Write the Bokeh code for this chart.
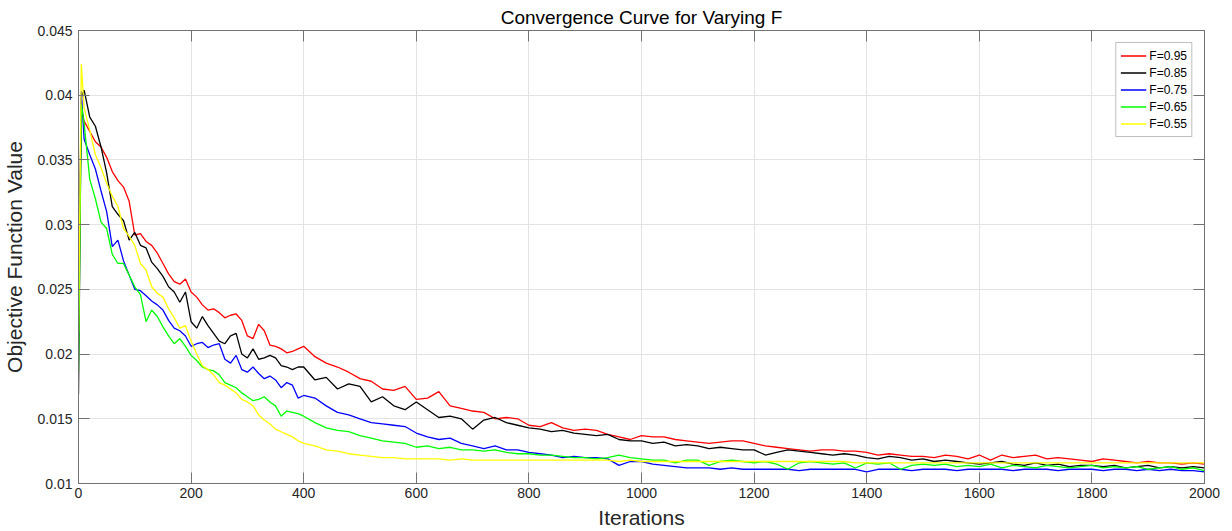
from bokeh.plotting import figure
from bokeh.models import Range1d, FixedTicker, LinearAxis, Legend, LegendItem
from bokeh.embed import file_html
from bokeh.resources import INLINE

TITLE = "Convergence Curve for Varying F"
XLABEL = "Iterations"
YLABEL = "Objective Function Value"

XTICKS = [0, 200, 400, 600, 800, 1000, 1200, 1400, 1600, 1800, 2000]
YTICKS = [0.01, 0.015, 0.02, 0.025, 0.03, 0.035, 0.04, 0.045]
YTICK_LABELS = ["0.01", "0.015", "0.02", "0.025", "0.03", "0.035", "0.04", "0.045"]

SERIES_NAMES = ["F=0.95", "F=0.85", "F=0.75", "F=0.65", "F=0.55"]
SERIES_COLORS = ["#ff0000", "#000000", "#0000ff", "#00ff00", "#ffff00"]

ITER = [0, 5,
        10, 20, 30, 40, 50, 60, 70, 80, 90, 100,
        110, 120, 130, 140, 150, 160, 170, 180, 190, 200,
        210, 220, 230, 240, 250, 260, 270, 280, 290, 300,
        310, 320, 330, 340, 350, 360, 370, 380, 390, 400,
        420, 440, 460, 480, 500, 520, 540, 560, 580, 600,
        620, 640, 660, 680, 700, 720, 740, 760, 780, 800,
        820, 840, 860, 880, 900, 920, 940, 960, 980, 1000,
        1020, 1040, 1060, 1080, 1100, 1120, 1140, 1160, 1180, 1200,
        1220, 1240, 1260, 1280, 1300, 1320, 1340, 1360, 1380, 1400,
        1420, 1440, 1460, 1480, 1500, 1520, 1540, 1560, 1580, 1600,
        1620, 1640, 1660, 1680, 1700, 1720, 1740, 1760, 1780, 1800,
        1820, 1840, 1860, 1880, 1900, 1920, 1940, 1960, 1980, 2000]

F095 = [0.0245, 0.0390,
        0.0380, 0.0372, 0.0364, 0.0360, 0.0352, 0.0341, 0.0334, 0.0329, 0.0318, 0.0292,
        0.0293, 0.0287, 0.0284, 0.0278, 0.0270, 0.0262, 0.0256, 0.0254, 0.0258, 0.0248,
        0.0244, 0.0238, 0.0234, 0.0235, 0.0232, 0.0228, 0.0230, 0.0231, 0.0226, 0.0214,
        0.0212, 0.0223, 0.0218, 0.0207, 0.0206, 0.0204, 0.0201, 0.0202, 0.0204, 0.0206,
        0.0198, 0.0193, 0.0190, 0.0186, 0.0181, 0.0179, 0.0173, 0.0172, 0.0175, 0.0165,
        0.0166, 0.0171, 0.0160, 0.0158, 0.0156, 0.0155, 0.0150, 0.0151, 0.0150, 0.0145,
        0.0144, 0.0147, 0.0143, 0.0141, 0.0142, 0.0141, 0.0138, 0.0136, 0.0134, 0.0137,
        0.0136, 0.0136, 0.0134, 0.0133, 0.0132, 0.0131, 0.0132, 0.0133, 0.0133, 0.0131,
        0.0129, 0.0128, 0.0127, 0.0126, 0.0125, 0.0126, 0.0126, 0.0125, 0.0125, 0.0124,
        0.0122, 0.0123, 0.0122, 0.0121, 0.0121, 0.0120, 0.0122, 0.0121, 0.0119, 0.0122,
        0.0118, 0.0122, 0.0120, 0.0121, 0.0122, 0.0119, 0.0120, 0.0119, 0.0118, 0.0117,
        0.0119, 0.0118, 0.0117, 0.0116, 0.0117, 0.0116, 0.0116, 0.0115, 0.0116, 0.0115]

F085 = [0.0169, 0.0398,
        0.0404, 0.0383, 0.0376, 0.0360, 0.0340, 0.0314, 0.0308, 0.0303, 0.0288, 0.0294,
        0.0284, 0.0282, 0.0271, 0.0266, 0.0260, 0.0252, 0.0248, 0.0240, 0.0248, 0.0225,
        0.0220, 0.0229, 0.0222, 0.0216, 0.0210, 0.0208, 0.0214, 0.0216, 0.0200, 0.0197,
        0.0204, 0.0196, 0.0197, 0.0199, 0.0197, 0.0191, 0.0190, 0.0188, 0.0190, 0.0190,
        0.0180, 0.0182, 0.0173, 0.0177, 0.0175, 0.0163, 0.0167, 0.0160, 0.0157, 0.0163,
        0.0157, 0.0151, 0.0152, 0.0150, 0.0142, 0.0149, 0.0151, 0.0147, 0.0145, 0.0143,
        0.0142, 0.0140, 0.0141, 0.0139, 0.0138, 0.0137, 0.0138, 0.0134, 0.0133, 0.0133,
        0.0131, 0.0132, 0.0129, 0.0130, 0.0129, 0.0127, 0.0128, 0.0127, 0.0126, 0.0126,
        0.0122, 0.0124, 0.0126, 0.0125, 0.0124, 0.0123, 0.0122, 0.0123, 0.0122, 0.0120,
        0.0119, 0.0121, 0.0120, 0.0118, 0.0119, 0.0117, 0.0118, 0.0117, 0.0116, 0.0115,
        0.0116, 0.0117, 0.0115, 0.0114, 0.0116, 0.0114, 0.0115, 0.0113, 0.0114, 0.0114,
        0.0113, 0.0114, 0.0112, 0.0113, 0.0114, 0.0112, 0.0113, 0.0112, 0.0113, 0.0112]

F075 = [0.0228, 0.0403,
        0.0366, 0.0354, 0.0343, 0.0326, 0.0310, 0.0283, 0.0288, 0.0272, 0.0261, 0.0250,
        0.0249, 0.0245, 0.0241, 0.0238, 0.0234, 0.0226, 0.0220, 0.0218, 0.0214, 0.0206,
        0.0208, 0.0209, 0.0205, 0.0207, 0.0208, 0.0196, 0.0193, 0.0199, 0.0188, 0.0186,
        0.0190, 0.0185, 0.0181, 0.0183, 0.0180, 0.0174, 0.0178, 0.0176, 0.0166, 0.0168,
        0.0166, 0.0160, 0.0155, 0.0153, 0.0150, 0.0147, 0.0146, 0.0145, 0.0144, 0.0139,
        0.0136, 0.0134, 0.0135, 0.0131, 0.0129, 0.0127, 0.0129, 0.0126, 0.0126, 0.0124,
        0.0123, 0.0122, 0.0120, 0.0121, 0.0120, 0.0120, 0.0119, 0.0114, 0.0117, 0.0117,
        0.0115, 0.0114, 0.0113, 0.0112, 0.0112, 0.0112, 0.0111, 0.0112, 0.0111, 0.0111,
        0.0111, 0.0111, 0.0111, 0.0110, 0.0111, 0.0111, 0.0111, 0.0111, 0.0111, 0.0109,
        0.0111, 0.0111, 0.0111, 0.0110, 0.0111, 0.0111, 0.0111, 0.0110, 0.0111, 0.0111,
        0.0111, 0.0111, 0.0110, 0.0111, 0.0111, 0.0111, 0.0110, 0.0111, 0.0111, 0.0111,
        0.0110, 0.0111, 0.0111, 0.0110, 0.0111, 0.0110, 0.0111, 0.0110, 0.0110, 0.0109]

F065 = [0.0186, 0.0393,
        0.0378, 0.0335, 0.0320, 0.0302, 0.0297, 0.0277, 0.0270, 0.0270, 0.0261, 0.0252,
        0.0246, 0.0225, 0.0234, 0.0229, 0.0221, 0.0214, 0.0208, 0.0212, 0.0206, 0.0199,
        0.0195, 0.0190, 0.0188, 0.0187, 0.0184, 0.0178, 0.0176, 0.0174, 0.0170, 0.0167,
        0.0164, 0.0165, 0.0167, 0.0163, 0.0160, 0.0152, 0.0156, 0.0155, 0.0154, 0.0152,
        0.0147, 0.0143, 0.0141, 0.0140, 0.0137, 0.0135, 0.0133, 0.0132, 0.0131, 0.0128,
        0.0129, 0.0127, 0.0128, 0.0126, 0.0126, 0.0125, 0.0126, 0.0124, 0.0123, 0.0123,
        0.0122, 0.0122, 0.0121, 0.0120, 0.0120, 0.0119, 0.0120, 0.0122, 0.0120, 0.0119,
        0.0118, 0.0118, 0.0116, 0.0118, 0.0118, 0.0114, 0.0117, 0.0118, 0.0117, 0.0116,
        0.0117, 0.0115, 0.0111, 0.0116, 0.0117, 0.0116, 0.0115, 0.0116, 0.0112, 0.0116,
        0.0115, 0.0116, 0.0111, 0.0114, 0.0115, 0.0114, 0.0115, 0.0113, 0.0114, 0.0113,
        0.0115, 0.0112, 0.0114, 0.0113, 0.0112, 0.0114, 0.0113, 0.0112, 0.0113, 0.0114,
        0.0112, 0.0113, 0.0112, 0.0113, 0.0111, 0.0112, 0.0113, 0.0111, 0.0112, 0.0110]

F055 = [0.0217, 0.0424,
        0.0390, 0.0373, 0.0354, 0.0344, 0.0332, 0.0322, 0.0314, 0.0297, 0.0291, 0.0284,
        0.0270, 0.0265, 0.0252, 0.0247, 0.0244, 0.0235, 0.0228, 0.0220, 0.0222, 0.0210,
        0.0200, 0.0191, 0.0188, 0.0184, 0.0178, 0.0176, 0.0173, 0.0170, 0.0165, 0.0163,
        0.0160, 0.0153, 0.0149, 0.0146, 0.0142, 0.0140, 0.0138, 0.0136, 0.0133, 0.0131,
        0.0129, 0.0126, 0.0125, 0.0123, 0.0122, 0.0121, 0.0120, 0.0120, 0.0119, 0.0119,
        0.0119, 0.0119, 0.0118, 0.0119, 0.0118, 0.0118, 0.0118, 0.0118, 0.0118, 0.0118,
        0.0118, 0.0118, 0.0118, 0.0118, 0.0118, 0.0118, 0.0118, 0.0117, 0.0118, 0.0117,
        0.0117, 0.0117, 0.0117, 0.0117, 0.0117, 0.0117, 0.0117, 0.0117, 0.0117, 0.0117,
        0.0117, 0.0117, 0.0117, 0.0117, 0.0117, 0.0117, 0.0117, 0.0117, 0.0116, 0.0116,
        0.0116, 0.0116, 0.0116, 0.0116, 0.0116, 0.0116, 0.0116, 0.0116, 0.0116, 0.0116,
        0.0116, 0.0116, 0.0116, 0.0116, 0.0116, 0.0116, 0.0116, 0.0116, 0.0116, 0.0116,
        0.0116, 0.0116, 0.0116, 0.0116, 0.0116, 0.0116, 0.0116, 0.0116, 0.0116, 0.0116]

SERIES = [F095, F085, F075, F065, F055]

FONT = "Liberation Sans"
AXIS_COLOR = "#737373"
TEXT_COLOR = "#262626"

p = figure(width=1232, height=531, output_backend="svg", toolbar_location=None,
           x_range=Range1d(0, 2000), y_range=Range1d(0.01, 0.045),
           min_border_left=76, min_border_right=28, min_border_top=30,
           min_border_bottom=48)
p.background_fill_color = "white"
p.border_fill_color = "white"
p.outline_line_color = AXIS_COLOR
p.outline_line_width = 1

p.title.text = TITLE
p.title.align = "center"
p.title.vertical_align = "top"
p.title.text_font = FONT
p.title.text_font_size = "19px"
p.title.text_font_style = "normal"
p.title.text_color = "#000000"
p.title.standoff = 2

p.xaxis.ticker = FixedTicker(ticks=XTICKS)
p.yaxis.ticker = FixedTicker(ticks=YTICKS)
p.yaxis.major_label_overrides = {t: s for t, s in zip(YTICKS, YTICK_LABELS)}
for ax in (p.xaxis, p.yaxis):
    ax.major_tick_in = 11
    ax.major_tick_out = 0
    ax.minor_tick_in = 0
    ax.minor_tick_out = 0
    ax.axis_line_color = AXIS_COLOR
    ax.major_tick_line_color = AXIS_COLOR
    ax.major_label_text_font = FONT
    ax.major_label_text_font_size = "14px"
    ax.major_label_text_color = TEXT_COLOR
    ax.axis_label_text_font = FONT
    ax.axis_label_text_font_size = "21px"
    ax.axis_label_text_font_style = "normal"
    ax.axis_label_text_color = TEXT_COLOR
p.xaxis.axis_label = XLABEL
p.yaxis.axis_label = YLABEL
p.xaxis.major_label_standoff = 4
p.xaxis.axis_label_standoff = 5
p.yaxis.major_label_standoff = 6
p.yaxis.axis_label_standoff = 8

top = LinearAxis(ticker=FixedTicker(ticks=XTICKS),
                 major_label_overrides={t: "" for t in XTICKS},
                 major_tick_in=11, major_tick_out=0, minor_tick_in=0, minor_tick_out=0,
                 axis_line_color=AXIS_COLOR, major_tick_line_color=AXIS_COLOR,
                 major_label_standoff=0)
right = LinearAxis(ticker=FixedTicker(ticks=YTICKS),
                   major_label_overrides={t: "" for t in YTICKS},
                   major_tick_in=11, major_tick_out=0, minor_tick_in=0, minor_tick_out=0,
                   axis_line_color=AXIS_COLOR, major_tick_line_color=AXIS_COLOR,
                   major_label_standoff=0)
p.add_layout(top, "above")
p.add_layout(right, "right")

p.xgrid.ticker = FixedTicker(ticks=XTICKS)
p.ygrid.ticker = FixedTicker(ticks=YTICKS)
p.grid.grid_line_color = "#e3e3e3"
p.grid.grid_line_width = 1

items = []
for name, color, vals in zip(SERIES_NAMES, SERIES_COLORS, SERIES):
    r = p.line(ITER, vals, line_color=color, line_width=1.3)
    items.append(LegendItem(label=name, renderers=[r]))

legend = Legend(items=items, location="top_right")
legend.margin = 12
legend.padding = 4
legend.spacing = 0
legend.label_text_font = FONT
legend.label_text_font_size = "12px"
legend.label_text_color = "#000000"
legend.glyph_width = 26
legend.glyph_height = 17
legend.label_height = 17
legend.label_standoff = 3
legend.border_line_color = "#808080"
legend.border_line_width = 1
legend.background_fill_color = "white"
legend.background_fill_alpha = 1
p.add_layout(legend)

open("out.html", "w").write(file_html(p, INLINE))
